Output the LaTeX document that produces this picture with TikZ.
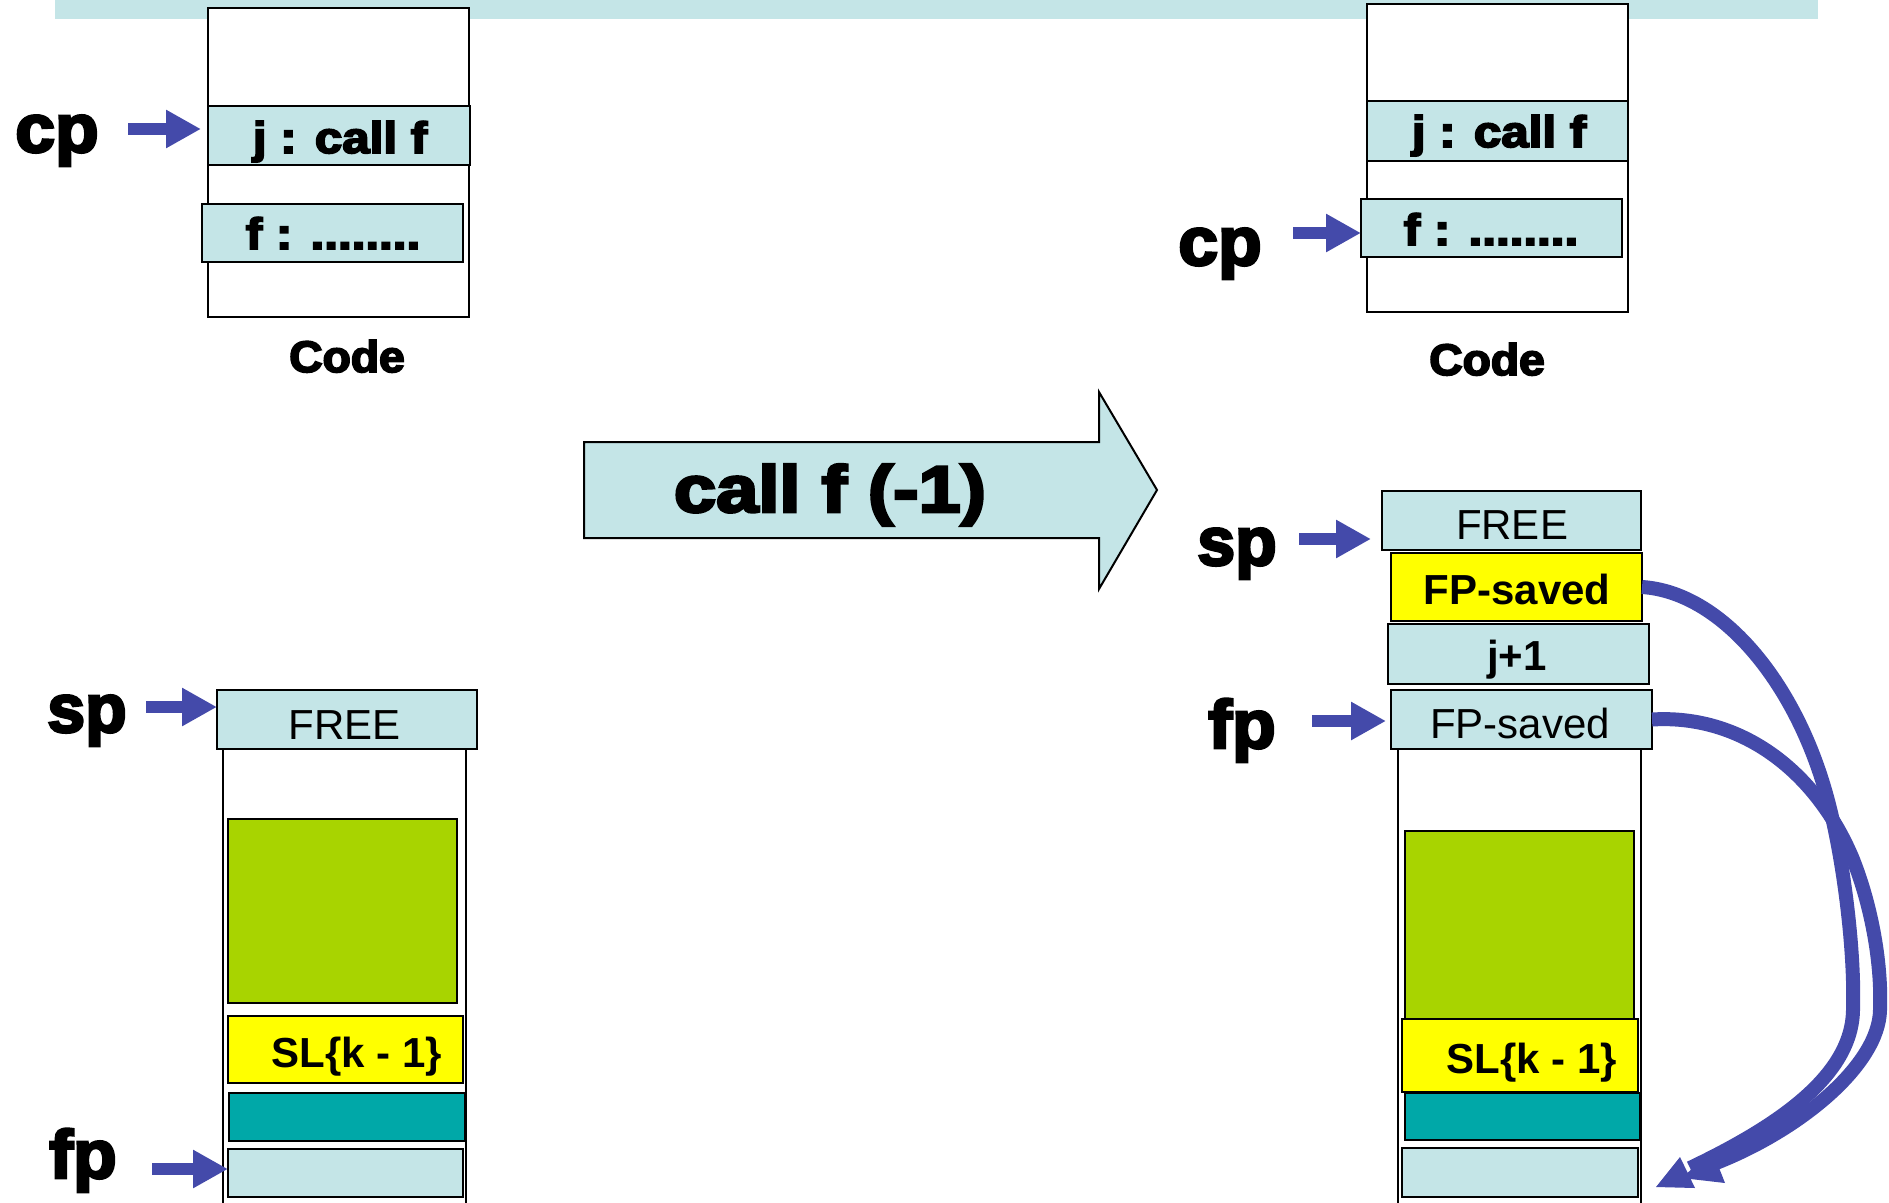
\documentclass[tikz,border=0pt]{standalone}
\usepackage{fontspec}
\usepackage{graphicx}
\usetikzlibrary{arrows.meta}
\setmainfont{Liberation Sans}
\newfontfamily\heavyfont{Liberation Sans Bold}[FakeBold=4]
\newfontfamily\boldfont{Liberation Sans Bold}

\definecolor{lb}{RGB}{196,229,231}
\definecolor{ptrblue}{RGB}{68,74,170}
\definecolor{leaf}{RGB}{168,212,0}
\definecolor{tealbox}{RGB}{0,168,168}
\definecolor{slyellow}{RGB}{255,255,0}

% heavy text: size, horizontal stretch, text
\newcommand\hvy[3]{\scalebox{#2}[1]{\fontsize{#1pt}{#1pt}\selectfont\heavyfont #3}}
\newcommand\reg[1]{{\fontsize{42pt}{42pt}\selectfont #1}}
\newcommand\bld[1]{{\fontsize{42pt}{42pt}\selectfont\boldfont #1}}

\begin{document}
\begin{tikzpicture}[x=1pt,y=-1pt,
  cell/.style={draw=black,line width=2.5pt,inner sep=0pt,outer sep=0pt,anchor=north west},
  lbl/.style={inner sep=0pt,outer sep=0pt,anchor=base},
  ptr/.style={draw=ptrblue,line width=12pt,-{Triangle[length=35pt 0 0,width=36pt 0 0]}},
  fplink/.style={draw=ptrblue,line width=14pt},
  fphead/.style={fill=ptrblue},
  col/.style={draw=black,line width=2pt},
]
\useasboundingbox (0,0) rectangle (1889,1202);

% band along the top
\fill[lb] (55,0) rectangle (1818,19);

% ---------- code memory, before the call ----------
\node[cell,fill=white,minimum width=261pt,minimum height=309pt] (codeL) at (208,8) {};
\node[cell,fill=lb,minimum width=262pt,minimum height=59pt] (jL) at (208,106) {};
\node[cell,fill=lb,minimum width=261pt,minimum height=58pt] (fL) at (202,204) {};
\node[lbl] (jLt) at (340,153) {\hvy{44}{1.12}{j : call f}};
\node[lbl] (fLt) at (333,249) {\hvy{44}{1.12}{f : ........}};
\node[lbl] (codeLt) at (347,372) {\hvy{44}{1.05}{Code}};
\node[lbl] (cpL) at (57,152) {\hvy{68}{1.05}{cp}};
\coordinate (cpLa) at (128,129);
\draw[ptr,shorten >=7pt] (cpLa) -- (cpLa -| jL.west);

% ---------- code memory, after the call ----------
\node[cell,fill=white,minimum width=261pt,minimum height=308pt] (codeR) at (1367,4) {};
\node[cell,fill=lb,minimum width=261pt,minimum height=60pt] (jR) at (1367,101) {};
\node[cell,fill=lb,minimum width=261pt,minimum height=58pt] (fR) at (1361,199) {};
\node[lbl] (jRt) at (1499,147) {\hvy{44}{1.12}{j : call f}};
\node[lbl] (fRt) at (1491,245) {\hvy{44}{1.12}{f : ........}};
\node[lbl] (codeRt) at (1487,375) {\hvy{44}{1.05}{Code}};
\node[lbl] (cpR) at (1220,265) {\hvy{68}{1.05}{cp}};
\coordinate (cpRa) at (1293,233);
\draw[ptr] (cpRa) -- (cpRa -| fR.west);

% ---------- the transition arrow ----------
\path[draw=black,line width=2pt,fill=lb]
  (584,442) -- (1099,442) -- (1099,392) -- (1157,490) -- (1099,589)
  -- (1099,538) -- (584,538) -- cycle;
\node[lbl] (callT) at (830,512) {\hvy{66}{1.15}{call f (-1)}};

% ---------- stack, before the call ----------
\node[cell,fill=lb,minimum width=260pt,minimum height=59pt] (freeL) at (217,690) {};
\draw[col] ([xshift=6pt]freeL.south west) -- ++(0,460);
\draw[col] ([xshift=-11pt]freeL.south east) -- ++(0,460);
\node[cell,fill=leaf,minimum width=229pt,minimum height=184pt] (grL) at (228,819) {};
\node[cell,fill=slyellow,minimum width=235pt,minimum height=67pt] (slL) at (228,1016) {};
\node[cell,fill=tealbox,minimum width=236pt,minimum height=48pt] (tlL) at (229,1093) {};
\node[cell,fill=lb,minimum width=235pt,minimum height=48pt] (bfL) at (228,1149) {};
\node[lbl] (freeLt) at (345,739) {\reg{FREE}};
\node[lbl] (slLt) at (357,1067) {\bld{SL\{k - 1\}}};
\node[lbl] (spL) at (87,732) {\hvy{68}{1.0}{sp}};
\node[lbl] (fpL) at (83,1178) {\hvy{68}{1.05}{fp}};
\coordinate (spLa) at (146,707);
\coordinate (fpLa) at (152,1169);
\draw[ptr] (spLa) -- (spLa -| freeL.west);
\draw[ptr] (fpLa) -- (fpLa -| bfL.west);

% ---------- stack, after the call ----------
\node[cell,fill=lb,minimum width=261pt,minimum height=59pt] (fpsB) at (1391,690) {};
\draw[col] ([xshift=7pt]fpsB.south west) -- ++(0,460);
\draw[col] ([xshift=-11pt]fpsB.south east) -- ++(0,460);
\node[cell,fill=lb,minimum width=259pt,minimum height=59pt] (freeR) at (1382,491) {};
\node[cell,fill=slyellow,minimum width=251pt,minimum height=68pt] (fpsY) at (1391,553) {};
\node[cell,fill=lb,minimum width=261pt,minimum height=60pt] (jpR) at (1388,624) {};
\node[cell,fill=leaf,minimum width=229pt,minimum height=188pt] (grR) at (1405,831) {};
\node[cell,fill=slyellow,minimum width=236pt,minimum height=73pt] (slR) at (1402,1019) {};
\node[cell,fill=tealbox,minimum width=235pt,minimum height=47pt] (tlR) at (1405,1093) {};
\node[cell,fill=lb,minimum width=236pt,minimum height=49pt] (bfR) at (1402,1148) {};
\node[lbl] (freeRt) at (1512,539) {\reg{FREE}};
\node[lbl] (fpsYt) at (1517,604) {\bld{FP-saved}};
\node[lbl] (jpRt) at (1517,670) {\bld{j+1}};
\node[lbl] (fpsBt) at (1520,738) {\reg{FP-saved}};
\node[lbl] (slRt) at (1532,1073) {\bld{SL\{k - 1\}}};
\node[lbl] (spR) at (1237,565) {\hvy{68}{1.0}{sp}};
\node[lbl] (fpR) at (1242,748) {\hvy{68}{1.05}{fp}};
\coordinate (spRa) at (1299,539);
\coordinate (fpRa) at (1312,721);
\draw[ptr,shorten >=11pt] (spRa) -- (spRa -| freeR.west);
\draw[ptr,shorten >=5pt] (fpRa) -- (fpRa -| fpsB.west);

% saved frame pointers, both leading down to the old frame
\coordinate (tipA) at (1656,1187);
\coordinate (tipB) at (1682,1178);
\coordinate (endA) at (1690,1168);
\coordinate (endB) at (1716,1163);
\draw[fplink] (fpsY.east) .. controls (1720,592) and (1795,680) .. (1827,797)
  .. controls (1843,855) and (1855,950) .. (1853,1010)
  .. controls (1852,1075) and (1780,1125) .. (endA);
\draw[fplink] (fpsB.east) .. controls (1740,714) and (1815,770) .. (1852,857)
  .. controls (1870,901) and (1882,960) .. (1880,1010)
  .. controls (1879,1065) and (1800,1130) .. (endB);
\fill[fphead] (tipB) -- (1712,1150) -- (1725,1183) -- cycle;
\fill[fphead] (tipA) -- (1680,1157) -- (1695,1188) -- cycle;
\end{tikzpicture}
\end{document}
